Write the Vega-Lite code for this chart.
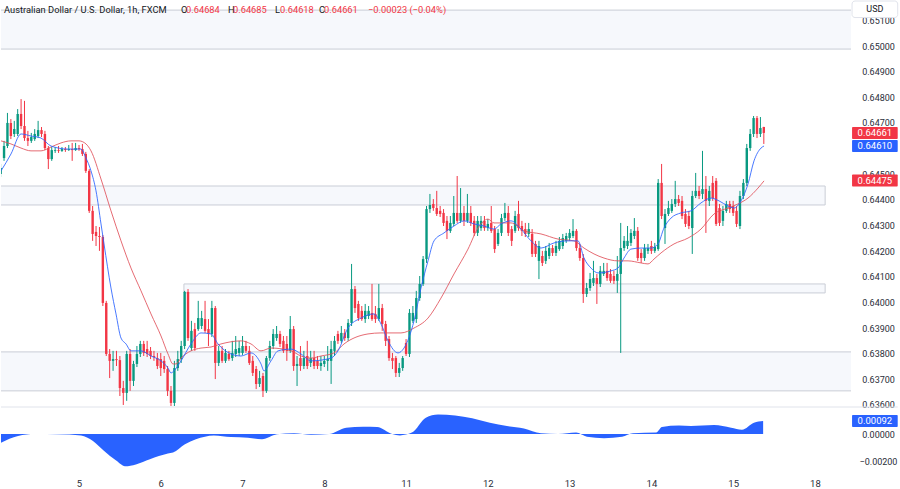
{
"$schema":"https://vega.github.io/schema/vega-lite/v6.json",
"padding":0,
"background":"white",
"bounds":"flush",
"spacing":0,
"resolve":{"scale":{"x":"independent","y":"independent"}},
"config":{"view":{"stroke":null},"font":"Roboto","scale":{"continuousPadding":0},"axis":{"labelFont":"Roboto","labelFontSize":9,"labelColor":"#2a2e39","domain":false,"ticks":false,"grid":false,"labelOverlap":false}},
"datasets":{
"bands":[{"t1":0.5,"t2":252,"p1":0.6514,"p2":0.64988},{"t1":0.5,"t2":243.0,"p1":0.64454,"p2":0.6438},{"t1":54.8,"t2":243.0,"p1":0.64072,"p2":0.64037},{"t1":0.5,"t2":252,"p1":0.63807,"p2":0.63655}],
"tags":[{"p":0.64661,"label":"0.64661","kind":"close"},{"p":0.6461,"label":"0.64610","kind":"fast"},{"p":0.64475,"label":"0.64475","kind":"slow"}],
"candles":[
{"t":1,"o":0.64501,"h":0.6454,"l":0.64489,"c":0.64524},
{"t":2,"o":0.64563,"h":0.6463,"l":0.64552,"c":0.6461},
{"t":3,"o":0.6461,"h":0.64739,"l":0.64602,"c":0.647},
{"t":4,"o":0.647,"h":0.64715,"l":0.64637,"c":0.64649},
{"t":5,"o":0.64657,"h":0.64708,"l":0.64645,"c":0.64676},
{"t":6,"o":0.64657,"h":0.64754,"l":0.64649,"c":0.64735},
{"t":7,"o":0.64735,"h":0.64793,"l":0.64676,"c":0.64688},
{"t":8,"o":0.64688,"h":0.64786,"l":0.6463,"c":0.64641},
{"t":9,"o":0.64641,"h":0.64669,"l":0.6461,"c":0.6463},
{"t":10,"o":0.6463,"h":0.64661,"l":0.64622,"c":0.64645},
{"t":11,"o":0.64637,"h":0.64676,"l":0.6463,"c":0.64657},
{"t":12,"o":0.64649,"h":0.64708,"l":0.64641,"c":0.64672},
{"t":13,"o":0.64672,"h":0.64684,"l":0.64645,"c":0.64657},
{"t":14,"o":0.64657,"h":0.64669,"l":0.64594,"c":0.64602},
{"t":15,"o":0.64602,"h":0.6461,"l":0.6452,"c":0.64559},
{"t":16,"o":0.64559,"h":0.64606,"l":0.64552,"c":0.64594},
{"t":17,"o":0.64591,"h":0.64606,"l":0.64583,"c":0.64594},
{"t":18,"o":0.64594,"h":0.6461,"l":0.64583,"c":0.64591},
{"t":19,"o":0.64591,"h":0.64606,"l":0.64587,"c":0.64598},
{"t":20,"o":0.64598,"h":0.64606,"l":0.64587,"c":0.64594},
{"t":21,"o":0.64594,"h":0.64614,"l":0.64591,"c":0.64598},
{"t":22,"o":0.64598,"h":0.64622,"l":0.64552,"c":0.64594},
{"t":23,"o":0.64594,"h":0.64622,"l":0.64591,"c":0.64602},
{"t":24,"o":0.64602,"h":0.64614,"l":0.64591,"c":0.64598},
{"t":25,"o":0.64598,"h":0.64618,"l":0.64571,"c":0.64579},
{"t":26,"o":0.64579,"h":0.64587,"l":0.64505,"c":0.64513},
{"t":27,"o":0.64513,"h":0.6452,"l":0.64349,"c":0.64357},
{"t":28,"o":0.64357,"h":0.64376,"l":0.6424,"c":0.64267},
{"t":29,"o":0.64275,"h":0.64298,"l":0.6422,"c":0.64259},
{"t":30,"o":0.64259,"h":0.64294,"l":0.64201,"c":0.64255},
{"t":31,"o":0.64255,"h":0.64263,"l":0.63986,"c":0.63998},
{"t":32,"o":0.63998,"h":0.64006,"l":0.63791,"c":0.63799},
{"t":33,"o":0.63799,"h":0.63818,"l":0.63705,"c":0.63772},
{"t":34,"o":0.63772,"h":0.63811,"l":0.63733,"c":0.63779},
{"t":35,"o":0.63779,"h":0.63811,"l":0.63752,"c":0.63775},
{"t":36,"o":0.63775,"h":0.63791,"l":0.63635,"c":0.63666},
{"t":37,"o":0.63666,"h":0.63694,"l":0.636,"c":0.63647},
{"t":38,"o":0.63647,"h":0.63811,"l":0.63616,"c":0.63799},
{"t":39,"o":0.63799,"h":0.63818,"l":0.63655,"c":0.63694},
{"t":40,"o":0.63694,"h":0.63772,"l":0.63674,"c":0.6376},
{"t":41,"o":0.6376,"h":0.6383,"l":0.63748,"c":0.63799},
{"t":42,"o":0.63799,"h":0.6385,"l":0.63787,"c":0.63838},
{"t":43,"o":0.63838,"h":0.6385,"l":0.63791,"c":0.63803},
{"t":44,"o":0.63818,"h":0.6385,"l":0.63787,"c":0.63799},
{"t":45,"o":0.63811,"h":0.63826,"l":0.63779,"c":0.63791},
{"t":46,"o":0.63791,"h":0.63811,"l":0.63772,"c":0.63787},
{"t":47,"o":0.63783,"h":0.63803,"l":0.6374,"c":0.63752},
{"t":48,"o":0.63779,"h":0.63803,"l":0.63713,"c":0.63744},
{"t":49,"o":0.63772,"h":0.63791,"l":0.63725,"c":0.6374},
{"t":50,"o":0.6374,"h":0.63752,"l":0.63635,"c":0.63655},
{"t":51,"o":0.63655,"h":0.63674,"l":0.63596,"c":0.63608},
{"t":52,"o":0.63608,"h":0.63772,"l":0.63596,"c":0.63744},
{"t":53,"o":0.63744,"h":0.63811,"l":0.63733,"c":0.63779},
{"t":54,"o":0.63779,"h":0.6385,"l":0.63764,"c":0.6383},
{"t":55,"o":0.6383,"h":0.64045,"l":0.63818,"c":0.64041},
{"t":56,"o":0.64041,"h":0.64052,"l":0.6385,"c":0.63861},
{"t":57,"o":0.63822,"h":0.63928,"l":0.63811,"c":0.63889},
{"t":58,"o":0.63896,"h":0.6392,"l":0.63811,"c":0.63822},
{"t":59,"o":0.63896,"h":0.64006,"l":0.63889,"c":0.63939},
{"t":60,"o":0.63908,"h":0.63967,"l":0.63896,"c":0.63939},
{"t":61,"o":0.63935,"h":0.64006,"l":0.63881,"c":0.63889},
{"t":62,"o":0.63896,"h":0.63935,"l":0.6383,"c":0.63877},
{"t":63,"o":0.63877,"h":0.64006,"l":0.63865,"c":0.63978},
{"t":64,"o":0.63978,"h":0.63986,"l":0.63701,"c":0.63764},
{"t":65,"o":0.63764,"h":0.6383,"l":0.63752,"c":0.63811},
{"t":66,"o":0.63811,"h":0.6383,"l":0.63764,"c":0.63772},
{"t":67,"o":0.63772,"h":0.63818,"l":0.63764,"c":0.63803},
{"t":68,"o":0.63799,"h":0.63811,"l":0.63772,"c":0.63779},
{"t":69,"o":0.63783,"h":0.6385,"l":0.63772,"c":0.63803},
{"t":70,"o":0.63799,"h":0.63869,"l":0.63787,"c":0.63818},
{"t":71,"o":0.63803,"h":0.6385,"l":0.63791,"c":0.63822},
{"t":72,"o":0.63803,"h":0.63869,"l":0.63795,"c":0.6383},
{"t":73,"o":0.6383,"h":0.6385,"l":0.63803,"c":0.63811},
{"t":74,"o":0.63811,"h":0.6383,"l":0.63756,"c":0.63764},
{"t":75,"o":0.63772,"h":0.63791,"l":0.63713,"c":0.63725},
{"t":76,"o":0.6374,"h":0.63752,"l":0.63662,"c":0.63682},
{"t":77,"o":0.63682,"h":0.63733,"l":0.6367,"c":0.63705},
{"t":78,"o":0.63713,"h":0.63725,"l":0.63631,"c":0.63655},
{"t":79,"o":0.63655,"h":0.63791,"l":0.63647,"c":0.63783},
{"t":80,"o":0.63783,"h":0.6385,"l":0.63772,"c":0.6383},
{"t":81,"o":0.6383,"h":0.63896,"l":0.63818,"c":0.63877},
{"t":82,"o":0.63861,"h":0.63908,"l":0.6385,"c":0.63877},
{"t":83,"o":0.63877,"h":0.63889,"l":0.63826,"c":0.63838},
{"t":84,"o":0.6385,"h":0.63869,"l":0.63803,"c":0.63811},
{"t":85,"o":0.63838,"h":0.63869,"l":0.63772,"c":0.63811},
{"t":86,"o":0.63811,"h":0.63947,"l":0.63803,"c":0.63896},
{"t":87,"o":0.63896,"h":0.63908,"l":0.63733,"c":0.63752},
{"t":88,"o":0.63752,"h":0.63791,"l":0.63674,"c":0.6376},
{"t":89,"o":0.63783,"h":0.6383,"l":0.63733,"c":0.63752},
{"t":90,"o":0.63752,"h":0.63811,"l":0.6374,"c":0.63783},
{"t":91,"o":0.63791,"h":0.6385,"l":0.6374,"c":0.63752},
{"t":92,"o":0.63764,"h":0.63811,"l":0.63748,"c":0.63783},
{"t":93,"o":0.63783,"h":0.63811,"l":0.6374,"c":0.63752},
{"t":94,"o":0.63772,"h":0.63791,"l":0.6374,"c":0.63752},
{"t":95,"o":0.63752,"h":0.63791,"l":0.63733,"c":0.63764},
{"t":96,"o":0.6376,"h":0.63791,"l":0.63748,"c":0.63772},
{"t":97,"o":0.63772,"h":0.6383,"l":0.63733,"c":0.63779},
{"t":98,"o":0.63772,"h":0.6385,"l":0.63682,"c":0.63818},
{"t":99,"o":0.63811,"h":0.63869,"l":0.63791,"c":0.6385},
{"t":100,"o":0.63877,"h":0.63889,"l":0.63838,"c":0.6385},
{"t":101,"o":0.6385,"h":0.63908,"l":0.63842,"c":0.63881},
{"t":102,"o":0.63881,"h":0.63896,"l":0.6385,"c":0.63861},
{"t":103,"o":0.63861,"h":0.63935,"l":0.6385,"c":0.6392},
{"t":104,"o":0.6392,"h":0.6415,"l":0.63908,"c":0.64052},
{"t":105,"o":0.64052,"h":0.64064,"l":0.63959,"c":0.63978},
{"t":106,"o":0.63994,"h":0.64006,"l":0.63928,"c":0.63939},
{"t":107,"o":0.63967,"h":0.63986,"l":0.63928,"c":0.63935},
{"t":108,"o":0.63935,"h":0.63994,"l":0.6392,"c":0.63967},
{"t":109,"o":0.63947,"h":0.63986,"l":0.63935,"c":0.63967},
{"t":110,"o":0.63959,"h":0.64072,"l":0.63928,"c":0.63935},
{"t":111,"o":0.63955,"h":0.63986,"l":0.6392,"c":0.63935},
{"t":112,"o":0.63935,"h":0.64072,"l":0.63928,"c":0.63978},
{"t":113,"o":0.63978,"h":0.63994,"l":0.63889,"c":0.63916},
{"t":114,"o":0.63916,"h":0.63928,"l":0.6383,"c":0.6385},
{"t":115,"o":0.63857,"h":0.63869,"l":0.63772,"c":0.63783},
{"t":116,"o":0.63783,"h":0.63803,"l":0.6374,"c":0.63772},
{"t":117,"o":0.63783,"h":0.63791,"l":0.63709,"c":0.63725},
{"t":118,"o":0.63725,"h":0.63764,"l":0.63709,"c":0.63744},
{"t":119,"o":0.63744,"h":0.63791,"l":0.63733,"c":0.63783},
{"t":120,"o":0.63842,"h":0.63857,"l":0.63791,"c":0.63799},
{"t":121,"o":0.63799,"h":0.63974,"l":0.63787,"c":0.63959},
{"t":122,"o":0.63928,"h":0.63986,"l":0.6392,"c":0.63959},
{"t":123,"o":0.63935,"h":0.64045,"l":0.6392,"c":0.64017},
{"t":124,"o":0.64017,"h":0.64103,"l":0.64006,"c":0.64072},
{"t":125,"o":0.64072,"h":0.64181,"l":0.64064,"c":0.64169},
{"t":126,"o":0.64169,"h":0.64376,"l":0.64154,"c":0.64364},
{"t":127,"o":0.64364,"h":0.64423,"l":0.64349,"c":0.6438},
{"t":128,"o":0.64384,"h":0.64403,"l":0.64357,"c":0.64368},
{"t":129,"o":0.64368,"h":0.64435,"l":0.64337,"c":0.64345},
{"t":130,"o":0.64357,"h":0.64376,"l":0.64333,"c":0.64345},
{"t":131,"o":0.64349,"h":0.64364,"l":0.64298,"c":0.6431},
{"t":132,"o":0.64318,"h":0.64337,"l":0.64247,"c":0.64279},
{"t":133,"o":0.64279,"h":0.64337,"l":0.64271,"c":0.6431},
{"t":134,"o":0.64306,"h":0.64415,"l":0.64298,"c":0.64349},
{"t":135,"o":0.64349,"h":0.64493,"l":0.6431,"c":0.64318},
{"t":136,"o":0.64318,"h":0.64446,"l":0.6431,"c":0.64349},
{"t":137,"o":0.64349,"h":0.64376,"l":0.64298,"c":0.64318},
{"t":138,"o":0.64318,"h":0.64423,"l":0.6431,"c":0.64349},
{"t":139,"o":0.64349,"h":0.64376,"l":0.64298,"c":0.6431},
{"t":140,"o":0.64318,"h":0.64337,"l":0.64259,"c":0.64271},
{"t":141,"o":0.64271,"h":0.64337,"l":0.64259,"c":0.64318},
{"t":142,"o":0.6429,"h":0.64337,"l":0.64279,"c":0.64318},
{"t":143,"o":0.64318,"h":0.64337,"l":0.64279,"c":0.6429},
{"t":144,"o":0.6429,"h":0.64325,"l":0.64279,"c":0.64306},
{"t":145,"o":0.6431,"h":0.64376,"l":0.64271,"c":0.64279},
{"t":146,"o":0.64286,"h":0.64298,"l":0.64193,"c":0.64208},
{"t":147,"o":0.64228,"h":0.64286,"l":0.6422,"c":0.64271},
{"t":148,"o":0.64271,"h":0.64345,"l":0.64259,"c":0.64329},
{"t":149,"o":0.64329,"h":0.64388,"l":0.64318,"c":0.64349},
{"t":150,"o":0.64349,"h":0.64376,"l":0.64259,"c":0.64271},
{"t":151,"o":0.64286,"h":0.64298,"l":0.6422,"c":0.6424},
{"t":152,"o":0.64279,"h":0.64357,"l":0.64271,"c":0.64337},
{"t":153,"o":0.64345,"h":0.64396,"l":0.64279,"c":0.6429},
{"t":154,"o":0.64298,"h":0.64318,"l":0.64259,"c":0.64279},
{"t":155,"o":0.64286,"h":0.6431,"l":0.64255,"c":0.64267},
{"t":156,"o":0.64267,"h":0.6431,"l":0.64255,"c":0.64286},
{"t":157,"o":0.64267,"h":0.64286,"l":0.64177,"c":0.64189},
{"t":158,"o":0.64228,"h":0.6424,"l":0.64177,"c":0.64189},
{"t":159,"o":0.64162,"h":0.6424,"l":0.64091,"c":0.6422},
{"t":160,"o":0.64181,"h":0.64201,"l":0.64142,"c":0.64154},
{"t":161,"o":0.64162,"h":0.6422,"l":0.6415,"c":0.64201},
{"t":162,"o":0.64181,"h":0.64232,"l":0.64169,"c":0.64212},
{"t":163,"o":0.64212,"h":0.64224,"l":0.64181,"c":0.64193},
{"t":164,"o":0.64193,"h":0.6424,"l":0.64181,"c":0.6422},
{"t":165,"o":0.64208,"h":0.64255,"l":0.64201,"c":0.6424},
{"t":166,"o":0.6422,"h":0.64267,"l":0.64208,"c":0.64251},
{"t":167,"o":0.6424,"h":0.64271,"l":0.64232,"c":0.64259},
{"t":168,"o":0.64251,"h":0.64286,"l":0.6424,"c":0.64271},
{"t":169,"o":0.64259,"h":0.64325,"l":0.64251,"c":0.64279},
{"t":170,"o":0.64279,"h":0.64286,"l":0.64201,"c":0.64212},
{"t":171,"o":0.64212,"h":0.64228,"l":0.64162,"c":0.64173},
{"t":172,"o":0.64173,"h":0.64189,"l":0.63998,"c":0.64033},
{"t":173,"o":0.64033,"h":0.64076,"l":0.64021,"c":0.64056},
{"t":174,"o":0.64056,"h":0.64115,"l":0.64045,"c":0.64091},
{"t":175,"o":0.64076,"h":0.64162,"l":0.64064,"c":0.64095},
{"t":176,"o":0.64095,"h":0.64111,"l":0.63994,"c":0.64072},
{"t":177,"o":0.64072,"h":0.64142,"l":0.6406,"c":0.64123},
{"t":178,"o":0.64111,"h":0.64154,"l":0.64103,"c":0.64123},
{"t":179,"o":0.64123,"h":0.64154,"l":0.64084,"c":0.64095},
{"t":180,"o":0.64111,"h":0.6413,"l":0.64076,"c":0.64084},
{"t":181,"o":0.64103,"h":0.64123,"l":0.64072,"c":0.64084},
{"t":182,"o":0.64084,"h":0.64181,"l":0.64037,"c":0.64111},
{"t":183,"o":0.64111,"h":0.6431,"l":0.63803,"c":0.64212},
{"t":184,"o":0.64212,"h":0.64259,"l":0.64201,"c":0.6424},
{"t":185,"o":0.6422,"h":0.64298,"l":0.64208,"c":0.6424},
{"t":186,"o":0.64232,"h":0.64286,"l":0.6422,"c":0.64271},
{"t":187,"o":0.64259,"h":0.64329,"l":0.64247,"c":0.64279},
{"t":188,"o":0.64279,"h":0.64294,"l":0.64162,"c":0.64173},
{"t":189,"o":0.64193,"h":0.64208,"l":0.64154,"c":0.64173},
{"t":190,"o":0.64173,"h":0.64228,"l":0.64162,"c":0.64212},
{"t":191,"o":0.64201,"h":0.64228,"l":0.64189,"c":0.64212},
{"t":192,"o":0.6422,"h":0.6424,"l":0.64189,"c":0.64201},
{"t":193,"o":0.64201,"h":0.64232,"l":0.64193,"c":0.64216},
{"t":194,"o":0.64208,"h":0.64481,"l":0.64201,"c":0.64466},
{"t":195,"o":0.64466,"h":0.6454,"l":0.64325,"c":0.64337},
{"t":196,"o":0.6429,"h":0.64364,"l":0.64228,"c":0.64345},
{"t":197,"o":0.64345,"h":0.64396,"l":0.64337,"c":0.64368},
{"t":198,"o":0.64357,"h":0.64403,"l":0.64349,"c":0.64384},
{"t":199,"o":0.64384,"h":0.64474,"l":0.64372,"c":0.64403},
{"t":200,"o":0.64403,"h":0.64419,"l":0.64376,"c":0.64388},
{"t":201,"o":0.64396,"h":0.64415,"l":0.64325,"c":0.64337},
{"t":202,"o":0.64345,"h":0.64364,"l":0.64294,"c":0.64306},
{"t":203,"o":0.64337,"h":0.64357,"l":0.64286,"c":0.64298},
{"t":204,"o":0.6429,"h":0.64435,"l":0.64189,"c":0.64415},
{"t":205,"o":0.64415,"h":0.64505,"l":0.64407,"c":0.64435},
{"t":206,"o":0.64435,"h":0.64454,"l":0.64403,"c":0.64415},
{"t":207,"o":0.64423,"h":0.64591,"l":0.64403,"c":0.64442},
{"t":208,"o":0.64442,"h":0.64493,"l":0.64271,"c":0.64396},
{"t":209,"o":0.64396,"h":0.64454,"l":0.64376,"c":0.64435},
{"t":210,"o":0.64466,"h":0.64493,"l":0.64396,"c":0.64407},
{"t":211,"o":0.64474,"h":0.64485,"l":0.64298,"c":0.64306},
{"t":212,"o":0.64368,"h":0.64384,"l":0.64298,"c":0.6431},
{"t":213,"o":0.64318,"h":0.64376,"l":0.64298,"c":0.64357},
{"t":214,"o":0.64357,"h":0.64396,"l":0.64349,"c":0.64384},
{"t":215,"o":0.64384,"h":0.64396,"l":0.64349,"c":0.64364},
{"t":216,"o":0.64376,"h":0.64396,"l":0.64337,"c":0.64349},
{"t":217,"o":0.64357,"h":0.64376,"l":0.64294,"c":0.64306},
{"t":218,"o":0.64298,"h":0.64435,"l":0.64286,"c":0.64415},
{"t":219,"o":0.64415,"h":0.64481,"l":0.64403,"c":0.64466},
{"t":220,"o":0.64466,"h":0.64618,"l":0.64454,"c":0.64602},
{"t":221,"o":0.64602,"h":0.64676,"l":0.64591,"c":0.64657},
{"t":222,"o":0.64657,"h":0.64727,"l":0.64645,"c":0.64719},
{"t":223,"o":0.64719,"h":0.64727,"l":0.64641,"c":0.64657},
{"t":224,"o":0.64657,"h":0.64723,"l":0.64645,"c":0.6468},
{"t":225,"o":0.64684,"h":0.64685,"l":0.64618,"c":0.64661}
],
"fast":[
{"t":1.11,"v":0.64513},{"t":4.04,"v":0.64579},{"t":6.98,"v":0.64657},{"t":9.91,"v":0.64649},{"t":12.85,"v":0.64641},{"t":15.78,"v":0.6461},{"t":20.77,"v":0.64598},{"t":24.59,"v":0.64598},{"t":26.05,"v":0.64563},{"t":27.52,"v":0.64513},{"t":28.99,"v":0.64435},{"t":30.46,"v":0.64306},{"t":31.34,"v":0.64228},{"t":33.39,"v":0.64056},{"t":34.86,"v":0.63955},{"t":36.33,"v":0.63861},{"t":37.8,"v":0.63838},{"t":39.26,"v":0.63811},{"t":42.2,"v":0.63811},{"t":45.13,"v":0.63791},{"t":48.07,"v":0.63772},{"t":50.12,"v":0.63744},{"t":51.0,"v":0.63725},{"t":51.88,"v":0.63733},{"t":53.94,"v":0.63772},{"t":56.87,"v":0.63838},{"t":59.81,"v":0.63881},{"t":62.74,"v":0.63877},{"t":64.8,"v":0.63838},{"t":68.61,"v":0.63799},{"t":71.55,"v":0.63791},{"t":74.48,"v":0.63803},{"t":77.42,"v":0.6376},{"t":78.3,"v":0.63733},{"t":80.35,"v":0.63772},{"t":82.41,"v":0.63811},{"t":86.23,"v":0.63818},{"t":89.16,"v":0.63799},{"t":92.09,"v":0.63772},{"t":97.96,"v":0.63783},{"t":100.02,"v":0.63811},{"t":102.95,"v":0.639},{"t":106.77,"v":0.63939},{"t":110.59,"v":0.63955},{"t":112.64,"v":0.63916},{"t":114.7,"v":0.6385},{"t":117.63,"v":0.63803},{"t":119.39,"v":0.63822},{"t":122.33,"v":0.63928},{"t":124.38,"v":0.64056},{"t":126.44,"v":0.64162},{"t":128.2,"v":0.6424},{"t":131.13,"v":0.64271},{"t":134.07,"v":0.64298},{"t":137.0,"v":0.64318},{"t":139.94,"v":0.64306},{"t":142.87,"v":0.64298},{"t":145.81,"v":0.64286},{"t":147.86,"v":0.64306},{"t":150.8,"v":0.64318},{"t":153.73,"v":0.64286},{"t":156.67,"v":0.6424},{"t":159.6,"v":0.64212},{"t":163.42,"v":0.64232},{"t":167.53,"v":0.6424},{"t":170.46,"v":0.6424},{"t":172.22,"v":0.64173},{"t":174.28,"v":0.64134},{"t":176.33,"v":0.64115},{"t":180.15,"v":0.64123},{"t":182.2,"v":0.64134},{"t":183.96,"v":0.64173},{"t":186.02,"v":0.64208},{"t":188.95,"v":0.64212},{"t":191.89,"v":0.64212},{"t":193.94,"v":0.64228},{"t":195.7,"v":0.6429},{"t":197.76,"v":0.64329},{"t":200.69,"v":0.64349},{"t":203.63,"v":0.64357},{"t":206.56,"v":0.64388},{"t":209.5,"v":0.64407},{"t":211.85,"v":0.64396},{"t":214.49,"v":0.64376},{"t":216.25,"v":0.64368},{"t":218.31,"v":0.64396},{"t":220.36,"v":0.64462},{"t":222.12,"v":0.64552},{"t":224.18,"v":0.64602},{"t":225.06,"v":0.6461}
],
"slow":[
{"t":1.11,"v":0.6463},{"t":4.04,"v":0.64618},{"t":6.98,"v":0.64602},{"t":9.91,"v":0.64591},{"t":12.85,"v":0.64591},{"t":15.78,"v":0.64606},{"t":18.71,"v":0.64622},{"t":21.64,"v":0.6463},{"t":24.0,"v":0.6463},{"t":26.05,"v":0.64618},{"t":27.52,"v":0.64591},{"t":30.46,"v":0.64481},{"t":33.39,"v":0.64357},{"t":36.33,"v":0.6424},{"t":39.26,"v":0.64134},{"t":42.2,"v":0.64045},{"t":45.13,"v":0.63955},{"t":48.07,"v":0.63869},{"t":50.12,"v":0.63799},{"t":51.59,"v":0.6376},{"t":52.47,"v":0.6376},{"t":53.94,"v":0.63783},{"t":56.87,"v":0.63811},{"t":59.81,"v":0.63822},{"t":62.74,"v":0.63826},{"t":65.67,"v":0.63838},{"t":71.55,"v":0.6385},{"t":74.48,"v":0.63838},{"t":77.42,"v":0.63811},{"t":80.35,"v":0.63822},{"t":86.23,"v":0.63811},{"t":89.16,"v":0.63791},{"t":92.09,"v":0.63783},{"t":95.03,"v":0.63791},{"t":98.85,"v":0.63803},{"t":101.78,"v":0.63838},{"t":108.82,"v":0.63877},{"t":112.64,"v":0.63881},{"t":118.51,"v":0.63881},{"t":122.33,"v":0.639},{"t":126.44,"v":0.63939},{"t":130.25,"v":0.64017},{"t":134.07,"v":0.64111},{"t":138.18,"v":0.64208},{"t":141.11,"v":0.6429},{"t":144.05,"v":0.64325},{"t":145.81,"v":0.6431},{"t":150.8,"v":0.6431},{"t":154.61,"v":0.64279},{"t":159.6,"v":0.64267},{"t":164.59,"v":0.64247},{"t":169.29,"v":0.6424},{"t":172.22,"v":0.64212},{"t":175.16,"v":0.64189},{"t":178.09,"v":0.64173},{"t":182.2,"v":0.64162},{"t":185.14,"v":0.64162},{"t":188.95,"v":0.64154},{"t":191.01,"v":0.6415},{"t":192.77,"v":0.64169},{"t":194.83,"v":0.64193},{"t":198.64,"v":0.64228},{"t":202.75,"v":0.64251},{"t":206.56,"v":0.64286},{"t":210.38,"v":0.64345},{"t":214.49,"v":0.64368},{"t":217.43,"v":0.64384},{"t":220.36,"v":0.64407},{"t":223.3,"v":0.64446},{"t":225.06,"v":0.64474}
],
"osc":[
{"t":1.1,"v":-0.00062},{"t":6.1,"v":-0.00014},{"t":11.1,"v":0.0},{"t":17.8,"v":-0.00002},{"t":24.6,"v":-0.0001},{"t":28.1,"v":-0.0005},{"t":31.3,"v":-0.0012},{"t":34.9,"v":-0.0019},{"t":37.5,"v":-0.0023},{"t":40.7,"v":-0.00217},{"t":44.8,"v":-0.0018},{"t":50.1,"v":-0.0014},{"t":51.6,"v":-0.00133},{"t":55.1,"v":-0.00074},{"t":58.3,"v":-0.00038},{"t":63.6,"v":-0.0001},{"t":68.6,"v":-0.00021},{"t":73.6,"v":-0.00026},{"t":77.7,"v":-0.00038},{"t":82.1,"v":-0.00002},{"t":87.1,"v":0.00005},{"t":92.1,"v":-0.00005},{"t":97.4,"v":0.0},{"t":102.4,"v":0.00045},{"t":107.4,"v":0.00052},{"t":111.5,"v":0.0005},{"t":115.9,"v":0.0},{"t":118.2,"v":-0.0001},{"t":121.7,"v":0.0001},{"t":125.8,"v":0.00117},{"t":129.4,"v":0.0014},{"t":134.4,"v":0.00133},{"t":139.4,"v":0.00112},{"t":144.6,"v":0.0008},{"t":149.6,"v":0.00057},{"t":154.6,"v":0.0004},{"t":159.6,"v":0.00005},{"t":164.6,"v":0.0},{"t":169.9,"v":0.0001},{"t":173.1,"v":-0.0002},{"t":178.1,"v":-0.0003},{"t":183.4,"v":-0.0002},{"t":186.6,"v":0.00005},{"t":193.4,"v":0.0001},{"t":195.1,"v":0.0005},{"t":200.1,"v":0.0006},{"t":203.6,"v":0.00057},{"t":210.4,"v":0.00064},{"t":215.4,"v":0.00045},{"t":218.6,"v":0.0003},{"t":222.1,"v":0.0008},{"t":224.8,"v":0.00092}
]
},
"vconcat":[
{
"width":850,"height":406,
"resolve":{"axis":{"x":"independent","y":"independent"}},
"layer":[
{"data":{"name":"bands"},"mark":{"type":"rect","fill":"#f6f8fc","stroke":"#c9cdd6","strokeWidth":1,"clip":true},
 "encoding":{"x":{"field":"t1","type":"quantitative","title":null,"scale":{"domain":[1.106,250.59],"nice":false,"zero":false,"padding":0},"axis":null},"x2":{"field":"t2"},
 "y":{"field":"p1","type":"quantitative","title":null,"scale":{"domain":[0.635921,0.651755],"nice":false,"zero":false,"padding":0},"axis":{"orient":"right","title":null,"values":[0.636,0.637,0.638,0.639,0.64,0.641,0.642,0.643,0.644,0.645,0.647,0.648,0.649,0.65,0.651],"format":".5f","labelPadding":27,"labelAlign":"center","labelOverlap":false,"labelBound":false}},"y2":{"field":"p2"}}},
{"data":{"name":"candles"},"mark":{"type":"rule","strokeWidth":1,"clip":true},
 "encoding":{"x":{"field":"t","type":"quantitative","axis":null},"y":{"field":"l","type":"quantitative","axis":null},"y2":{"field":"h"},
 "color":{"condition":{"test":"datum.c >= datum.o","value":"#089981"},"value":"#f23645"}}},
{"data":{"name":"candles"},"mark":{"type":"bar","size":2.4,"clip":true},
 "encoding":{"x":{"field":"t","type":"quantitative","axis":null},"y":{"field":"o","type":"quantitative","axis":null},"y2":{"field":"c"},
 "color":{"condition":{"test":"datum.c >= datum.o","value":"#089981"},"value":"#f23645"}}},
{"data":{"name":"slow"},"mark":{"type":"line","color":"#e0515b","strokeWidth":1,"opacity":0.85,"interpolate":"monotone","clip":true},
 "encoding":{"x":{"field":"t","type":"quantitative","axis":null},"y":{"field":"v","type":"quantitative","axis":null}}},
{"data":{"name":"fast"},"mark":{"type":"line","color":"#2962ff","strokeWidth":1,"opacity":0.85,"interpolate":"monotone","clip":true},
 "encoding":{"x":{"field":"t","type":"quantitative","axis":null},"y":{"field":"v","type":"quantitative","axis":null}}},
{"data":{"values":[{}]},"mark":{"type":"text","text":"Australian Dollar / U.S. Dollar, 1h, FXCM","align":"left","baseline":"middle","fontSize":9.3,"color":"#131722"},
 "encoding":{"x":{"datum":1.99,"type":"quantitative","axis":null},"y":{"datum":0.6514,"type":"quantitative","axis":null}}},
{"data":{"values":[{}]},"mark":{"type":"text","text":"O","align":"left","baseline":"middle","fontSize":9.3,"color":"#131722"},
 "encoding":{"x":{"datum":53.94,"type":"quantitative","axis":null},"y":{"datum":0.6514,"type":"quantitative","axis":null}}},
{"data":{"values":[{}]},"mark":{"type":"text","text":"0.64684","align":"left","baseline":"middle","fontSize":9.3,"color":"#f23645"},
 "encoding":{"x":{"datum":55.41,"type":"quantitative","axis":null},"y":{"datum":0.6514,"type":"quantitative","axis":null}}},
{"data":{"values":[{}]},"mark":{"type":"text","text":"H","align":"left","baseline":"middle","fontSize":9.3,"color":"#131722"},
 "encoding":{"x":{"datum":67.73,"type":"quantitative","axis":null},"y":{"datum":0.6514,"type":"quantitative","axis":null}}},
{"data":{"values":[{}]},"mark":{"type":"text","text":"0.64685","align":"left","baseline":"middle","fontSize":9.3,"color":"#f23645"},
 "encoding":{"x":{"datum":69.2,"type":"quantitative","axis":null},"y":{"datum":0.6514,"type":"quantitative","axis":null}}},
{"data":{"values":[{}]},"mark":{"type":"text","text":"L","align":"left","baseline":"middle","fontSize":9.3,"color":"#131722"},
 "encoding":{"x":{"datum":81.53,"type":"quantitative","axis":null},"y":{"datum":0.6514,"type":"quantitative","axis":null}}},
{"data":{"values":[{}]},"mark":{"type":"text","text":"0.64618","align":"left","baseline":"middle","fontSize":9.3,"color":"#f23645"},
 "encoding":{"x":{"datum":83.0,"type":"quantitative","axis":null},"y":{"datum":0.6514,"type":"quantitative","axis":null}}},
{"data":{"values":[{}]},"mark":{"type":"text","text":"C","align":"left","baseline":"middle","fontSize":9.3,"color":"#131722"},
 "encoding":{"x":{"datum":94.44,"type":"quantitative","axis":null},"y":{"datum":0.6514,"type":"quantitative","axis":null}}},
{"data":{"values":[{}]},"mark":{"type":"text","text":"0.64661","align":"left","baseline":"middle","fontSize":9.3,"color":"#f23645"},
 "encoding":{"x":{"datum":95.91,"type":"quantitative","axis":null},"y":{"datum":0.6514,"type":"quantitative","axis":null}}},
{"data":{"values":[{}]},"mark":{"type":"text","text":"−0.00023 (−0.04%)","align":"left","baseline":"middle","fontSize":9.3,"color":"#f23645"},
 "encoding":{"x":{"datum":108.83,"type":"quantitative","axis":null},"y":{"datum":0.6514,"type":"quantitative","axis":null}}},
{"data":{"values":[{}]},"mark":{"type":"rect","fill":"white","stroke":"#e0e3eb","strokeWidth":1,"cornerRadius":3},
 "encoding":{"x":{"datum":250.9,"type":"quantitative","axis":null},"x2":{"datum":264.3},"y":{"datum":0.651755,"type":"quantitative","axis":null},"y2":{"datum":0.65111}}},
{"data":{"values":[{}]},"mark":{"type":"text","text":"USD","align":"center","baseline":"middle","fontSize":9,"color":"#131722"},
 "encoding":{"x":{"datum":257.6,"type":"quantitative","axis":null},"y":{"datum":0.65145,"type":"quantitative","axis":null}}},
{"data":{"name":"tags"},"mark":{"type":"bar","orient":"horizontal","size":12,"cornerRadius":1},
 "encoding":{"x":{"datum":250.9,"type":"quantitative","axis":null},"x2":{"datum":264.3},"y":{"field":"p","type":"quantitative","axis":null},
 "color":{"field":"kind","type":"nominal","scale":{"domain":["close","fast","slow"],"range":["#f23645","#2962ff","#f23645"]},"legend":null}}},
{"data":{"name":"tags"},"mark":{"type":"text","align":"center","baseline":"middle","fontSize":9.5,"color":"white"},
 "encoding":{"x":{"datum":257.6,"type":"quantitative","axis":null},"y":{"field":"p","type":"quantitative","axis":null},"text":{"field":"label"}}}
]
},
{
"width":850,"height":64,
"layer":[
{"data":{"name":"osc"},"mark":{"type":"area","color":"#2962ff","interpolate":"monotone","clip":true},
 "encoding":{"x":{"field":"t","type":"quantitative","title":null,"scale":{"domain":[1.106,250.59],"nice":false,"zero":false,"padding":0},
   "axis":{"title":null,"values":[24,48,72,96,120,144,168,192,216,240],"labelExpr":"['5','6','7','8','11','12','13','14','15','18'][round(datum.value/24)-1]","labelPadding":7,"labelFontSize":9.5,"labelOverlap":false}},
  "y":{"field":"v","type":"quantitative","title":null,"scale":{"domain":[-0.002643,0.001929],"nice":false,"zero":false,"padding":0},"axis":{"orient":"right","title":null,"values":[0,-0.002],"format":".5f","labelPadding":27,"labelAlign":"center","labelOverlap":false}},
  "y2":{"datum":0}}},
{"data":{"values":[{}]},"mark":{"type":"rule","color":"#e0e3eb","strokeWidth":1},
 "encoding":{"x":{"datum":1.106,"type":"quantitative","title":null},"x2":{"datum":264.3},"y":{"datum":0.001929,"type":"quantitative","title":null}}},
{"data":{"values":[{}]},"mark":{"type":"bar","orient":"horizontal","size":12,"color":"#2962ff","cornerRadius":1},
 "encoding":{"x":{"datum":250.9,"type":"quantitative","title":null},"x2":{"datum":264.3},"y":{"datum":0.00092,"type":"quantitative","title":null}}},
{"data":{"values":[{}]},"mark":{"type":"text","text":"0.00092","align":"center","baseline":"middle","fontSize":9.5,"color":"white"},
 "encoding":{"x":{"datum":257.6,"type":"quantitative","title":null},"y":{"datum":0.00092,"type":"quantitative","title":null}}}
]
}
]
}
